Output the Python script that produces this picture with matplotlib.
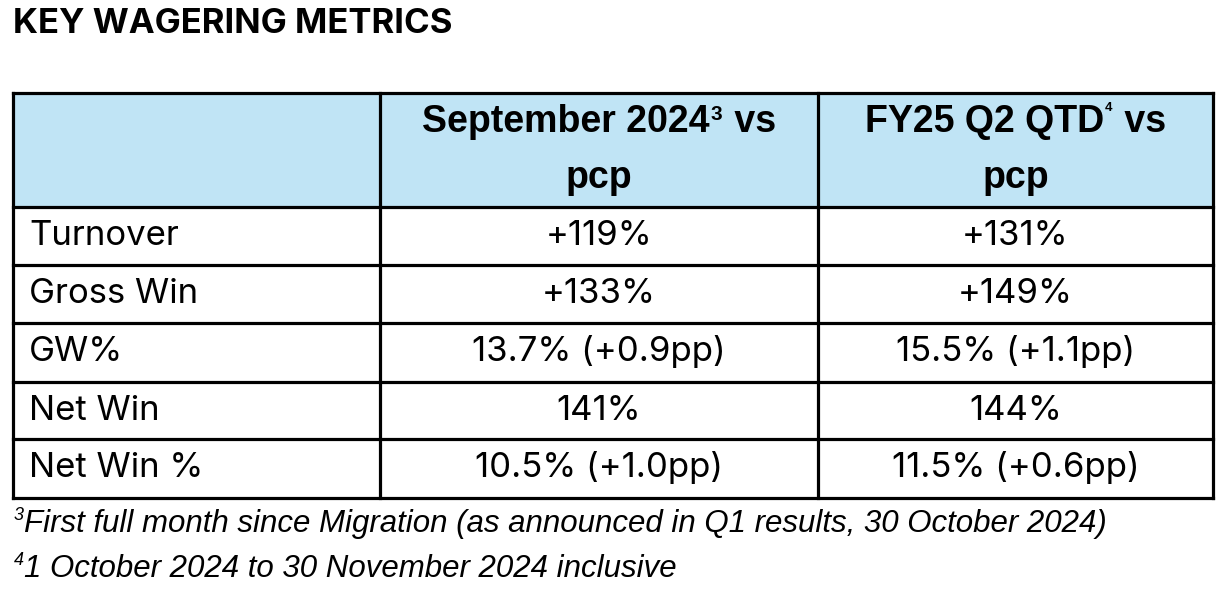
import matplotlib
matplotlib.use("Agg")
import matplotlib.pyplot as plt
from matplotlib.patches import Rectangle

title = "KEY WAGERING METRICS"
col_heads = [["September 2024", "3", " vs"], ["FY25 Q2 QTD", "4", " vs"]]
metrics = ["Turnover", "Gross Win", "GW%", "Net Win", "Net Win %"]
sep_2024 = ["+119%", "+133%", "13.7% (+0.9pp)", "141%", "10.5% (+1.0pp)"]
q2_qtd = ["+131%", "+149%", "15.5% (+1.1pp)", "144%", "11.5% (+0.6pp)"]
notes = [("3", "First full month since Migration (as announced in Q1 results, 30 October 2024)"),
         ("4", "1 October 2024 to 30 November 2024 inclusive")]

W, H = 1227, 591
fig = plt.figure(figsize=(W / 100, H / 100), dpi=100)
ax = fig.add_axes([0, 0, 1, 1])
ax.set_xlim(0, W)
ax.set_ylim(H, 0)
ax.axis("off")

BODY = ["Inter", "Noto Sans", "DejaVu Sans"]
HEAD = ["Liberation Sans", "DejaVu Sans"]
NOTE = ["Liberation Sans", "DejaVu Sans"]

# table grid (pixel coords, y down)
xs = [13, 380, 818, 1213]
ys = [93, 207, 265, 323, 382, 439, 498]
blue = "#c0e4f5"
lw = 2.3
ax.add_patch(Rectangle((xs[0], ys[0]), xs[-1] - xs[0], ys[1] - ys[0],
                       facecolor=blue, edgecolor="none", zorder=0))
for y in ys:
    ax.plot([xs[0], xs[-1]], [y, y], color="black", lw=lw, solid_capstyle="projecting")
for x in xs:
    ax.plot([x, x], [ys[0], ys[-1]], color="black", lw=lw, solid_capstyle="projecting")

ax.text(13, 33, title, fontsize=25, fontweight="bold", family=BODY,
        va="baseline", ha="left")

fig.canvas.draw()
rend = fig.canvas.get_renderer()


def width_px(s, **kw):
    t = ax.text(0, 0, s, **kw)
    w = t.get_window_extent(rend).width
    t.remove()
    return w


# header (the two superscripts differ in size in the original)
hsize = 27
hkw = dict(fontsize=hsize, family=HEAD, fontweight="bold")
sup_sizes = [15, 9.5]
sup_base = [120, 111]
for i, (m1, s, m2) in enumerate(col_heads):
    cx = (xs[i + 1] + xs[i + 2]) / 2
    skw = dict(fontsize=sup_sizes[i], family=HEAD, fontweight="bold")
    w1, ws, w2 = width_px(m1, **hkw), width_px(s, **skw), width_px(m2, **hkw)
    gap = 3
    x0 = cx - (w1 + ws + gap + w2) / 2
    ax.text(x0, 132, m1, ha="left", va="baseline", **hkw)
    ax.text(x0 + w1 + 1, sup_base[i], s, ha="left", va="baseline", **skw)
    ax.text(x0 + w1 + ws + gap, 132, m2, ha="left", va="baseline", **hkw)
    ax.text(cx, 188, "pcp", ha="center", va="baseline", **hkw)

# body rows
bsize = 25
for r, (m, a, b) in enumerate(zip(metrics, sep_2024, q2_qtd)):
    base = ys[r + 1] + 38
    ax.text(29, base, m, ha="left", va="baseline", fontsize=bsize, family=BODY)
    ax.text((xs[1] + xs[2]) / 2, base, a, ha="center", va="baseline",
            fontsize=bsize, family=BODY)
    ax.text((xs[2] + xs[3]) / 2, base, b, ha="center", va="baseline",
            fontsize=bsize, family=BODY)

# footnotes
nsize = 22.5
for k, (sup, txt) in enumerate(notes):
    base = 532 + k * 45
    sk = dict(fontsize=13, family=NOTE, style="italic")
    ax.text(14, base - 12, sup, ha="left", va="baseline", **sk)
    ws = width_px(sup, **sk)
    ax.text(14 + ws, base, txt, ha="left", va="baseline", fontsize=nsize,
            family=NOTE, style="italic")

fig.savefig("out.png", dpi=100)
